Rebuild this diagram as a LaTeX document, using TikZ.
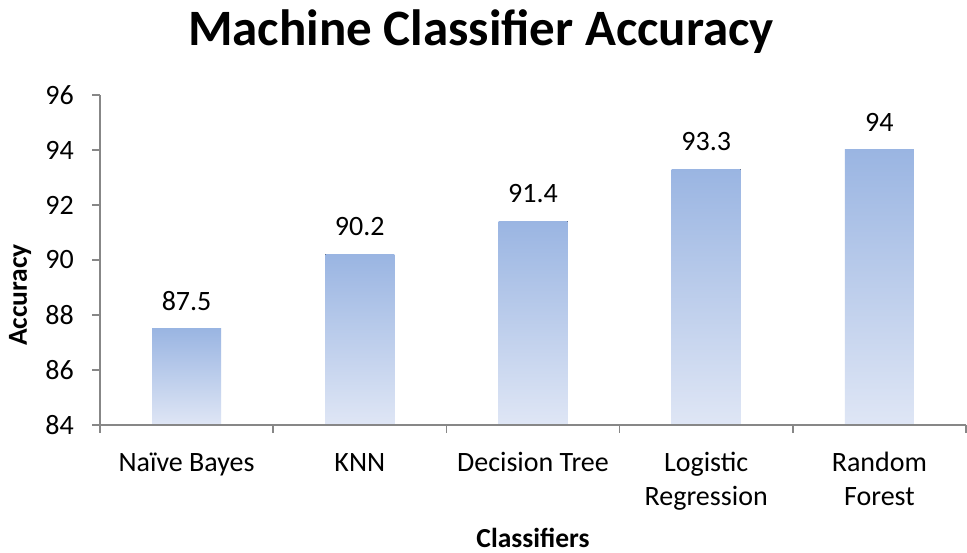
\documentclass[tikz,border=0pt]{standalone}
\usepackage{fontspec}
\setmainfont{Carlito}
\begin{document}
\begin{tikzpicture}[x=1pt,y=1pt,
  axisline/.style={draw=black!47, line width=1.5pt},
  bar/.style={top color=barTop, bottom color=barBot, draw=none},
  ticklab/.style={font=\fontsize{28}{32}\selectfont, inner sep=0pt, anchor=east},
  vallab/.style={font=\fontsize{28}{32}\selectfont, inner sep=0pt, anchor=base},
  catlab/.style={font=\fontsize{28}{32}\selectfont, inner sep=0pt, anchor=base},
  axtitle/.style={font=\bfseries\fontsize{27.5}{32}\selectfont, inner sep=0pt},
]
\definecolor{barTop}{HTML}{9AB5E2}
\definecolor{barBot}{HTML}{DFE6F5}
\useasboundingbox[fill=white] (0,0) rectangle (967,553);
% title
\node[font=\bfseries\fontsize{51}{58}\selectfont, inner sep=0pt] (title) at (481,521) {Machine Classifier Accuracy};
% bars
\foreach \v/\n [count=\i] in {87.5/87.5,90.2/90.2,91.4/91.4,93.3/93.3,94/94} {
  \pgfmathsetmacro\cx{100+173.2*(\i-0.5)}
  \pgfmathsetmacro\ty{128+(\v-84)*27.5}
  \fill[bar] (\cx-34.5,128) rectangle (\cx+34.5,\ty);
  \node[vallab] (val\i) at (\cx,\ty+18.5) {\n};
}
% axes
\coordinate (o) at (100,128);
\coordinate (ytop) at (100,458);
\coordinate (xl) at (92,128);
\coordinate (xr) at (966,128);
\draw[axisline] (o) -- (ytop);
\draw[axisline] (xl) -- (xr);
\foreach \t [count=\k from 0] in {84,86,88,90,92,94,96} {
  \draw[axisline] (92,128+55*\k) -- (100,128+55*\k);
  \node[ticklab] (ytick\t) at (74,128+55*\k) {\t};
}
\foreach \k in {0,...,5} {
  \draw[axisline] (100+173.2*\k,128) -- (100+173.2*\k,120);
}
% category labels
\node[catlab] (cat1) at (186.6,81) {Naïve Bayes};
\node[catlab] (cat2) at (359.8,81) {KNN};
\node[catlab] (cat3) at (533,81) {Decision Tree};
\node[catlab] (cat4a) at (706.2,81) {Logistic};
\node[catlab] (cat4b) at (706.2,47) {Regression};
\node[catlab] (cat5a) at (879.4,81) {Random};
\node[catlab] (cat5b) at (879.4,47) {Forest};
% axis titles
\node[axtitle] (xtitle) at (533,15) {Classifiers};
\node[axtitle, rotate=90] (ytitle) at (20,258) {Accuracy};
\end{tikzpicture}
\end{document}
